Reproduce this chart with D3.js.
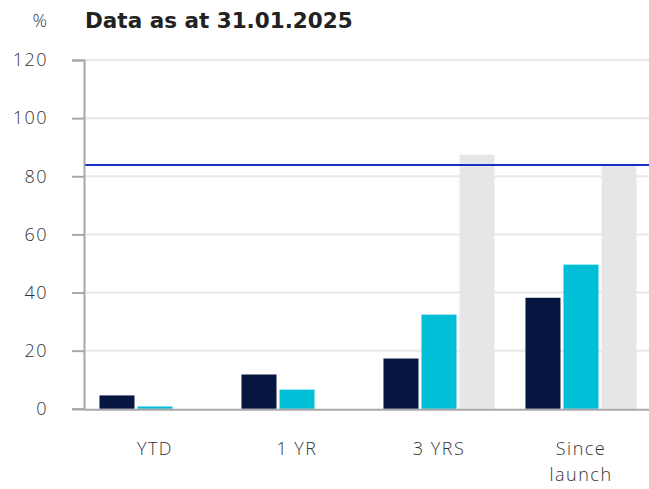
<!DOCTYPE html>
<meta charset="utf-8">
<style>
body { margin: 0; background: #fff; }
.tick text { font-family: "Open Sans", sans-serif; font-size: 18px; font-weight: 300; letter-spacing: 1.5px; fill: #333; }
</style>
<svg width="649" height="489"></svg>
<script src="https://d3js.org/d3.v7.min.js"></script>
<script>

var categories = ["YTD", "1 YR", "3 YRS", "Since launch"];
var series = ["fund", "index", "peer"];
var fund = [4.6, 11.8, 17.3, 38.2];
var index = [0.8, 6.6, 32.4, 49.6];
var peer = [null, null, 87.4, 83.6];
var refLine = 83.9;
var yTicks = [0, 20, 40, 60, 80, 100, 120];

var colors = { fund: "#061640", index: "#00bed6", peer: "#e5e6e8" };

var margin = { top: 60, right: 0, bottom: 80, left: 84 },
    width = 649 - margin.left - margin.right,
    height = 408.8 - margin.top;

var svg = d3.select("svg");
var g = svg.append("g")
    .attr("transform", "translate(" + margin.left + "," + margin.top + ")");

var x0 = d3.scaleBand().domain(categories).range([0, 568])
    .paddingInner(0.218).paddingOuter(0.109);
var x1 = d3.scaleBand().domain(series).range([0, x0.bandwidth()])
    .paddingInner(0.079);
var y = d3.scaleLinear().domain([0, 120]).range([height, 0]);

// gridlines
g.selectAll(".grid")
  .data(yTicks.filter(function(d) { return d > 0; }))
  .enter().append("line")
    .attr("x1", 0).attr("x2", width)
    .attr("y1", function(d) { return y(d); })
    .attr("y2", function(d) { return y(d); })
    .attr("stroke", "#e8e8e8")
    .attr("stroke-width", 2);

var data = categories.map(function(c, i) {
  return { cat: c, values: [
    { key: "fund", v: fund[i] },
    { key: "index", v: index[i] },
    { key: "peer", v: peer[i] }
  ] };
});

var groups = g.selectAll(".grp")
  .data(data)
  .enter().append("g")
    .attr("transform", function(d) { return "translate(" + x0(d.cat) + ",0)"; });

groups.selectAll("rect")
  .data(function(d) { return d.values.filter(function(v) { return v.v != null; }); })
  .enter().append("rect")
    .attr("x", function(d) { return x1(d.key); })
    .attr("width", x1.bandwidth())
    .attr("y", function(d) { return y(d.v); })
    .attr("height", function(d) { return height - y(d.v); })
    .attr("fill", function(d) { return colors[d.key]; });

// reference line
g.append("line")
    .attr("x1", 0).attr("x2", width)
    .attr("y1", y(refLine)).attr("y2", y(refLine))
    .attr("stroke", "#1a2fc8")
    .attr("stroke-width", 2);

// baseline (just under the bars)
g.append("line")
    .attr("x1", 0).attr("x2", width)
    .attr("y1", height + 1).attr("y2", height + 1)
    .attr("stroke", "#a8a8a8")
    .attr("stroke-width", 2);

// y axis
var yAxis = g.append("g")
    .call(d3.axisLeft(y).tickValues(yTicks).tickSize(12).tickPadding(24));
yAxis.select(".domain").attr("stroke", "#a8a8a8").attr("stroke-width", 2);
yAxis.selectAll(".tick line").attr("stroke", "#a8a8a8").attr("stroke-width", 2);

// x labels
var xl = g.append("g")
    .attr("transform", "translate(0," + height + ")")
    .call(d3.axisBottom(x0).tickSize(0).tickPadding(33));
xl.select(".domain").remove();
xl.selectAll(".tick text").each(function(d) {
  var t = d3.select(this);
  if (d === "Since launch") {
    t.text(null);
    t.append("tspan").attr("x", 0).attr("dy", "0.71em").text("Since");
    t.append("tspan").attr("x", 0).attr("dy", "1.45em").text("launch");
  }
});

svg.append("text")
    .attr("x", 47).attr("y", 27)
    .attr("text-anchor", "end")
    .style("font-family", "Open Sans, sans-serif")
    .style("font-size", "18px")
    .style("font-weight", "300")
    .attr("fill", "#333")
    .text("%");

svg.append("text")
    .attr("x", 85).attr("y", 28)
    .style("font-family", "DejaVu Sans, sans-serif")
    .style("font-size", "21.5px")
    .style("font-weight", "bold")
    .attr("fill", "#222")
    .text("Data as at 31.01.2025");
</script>
